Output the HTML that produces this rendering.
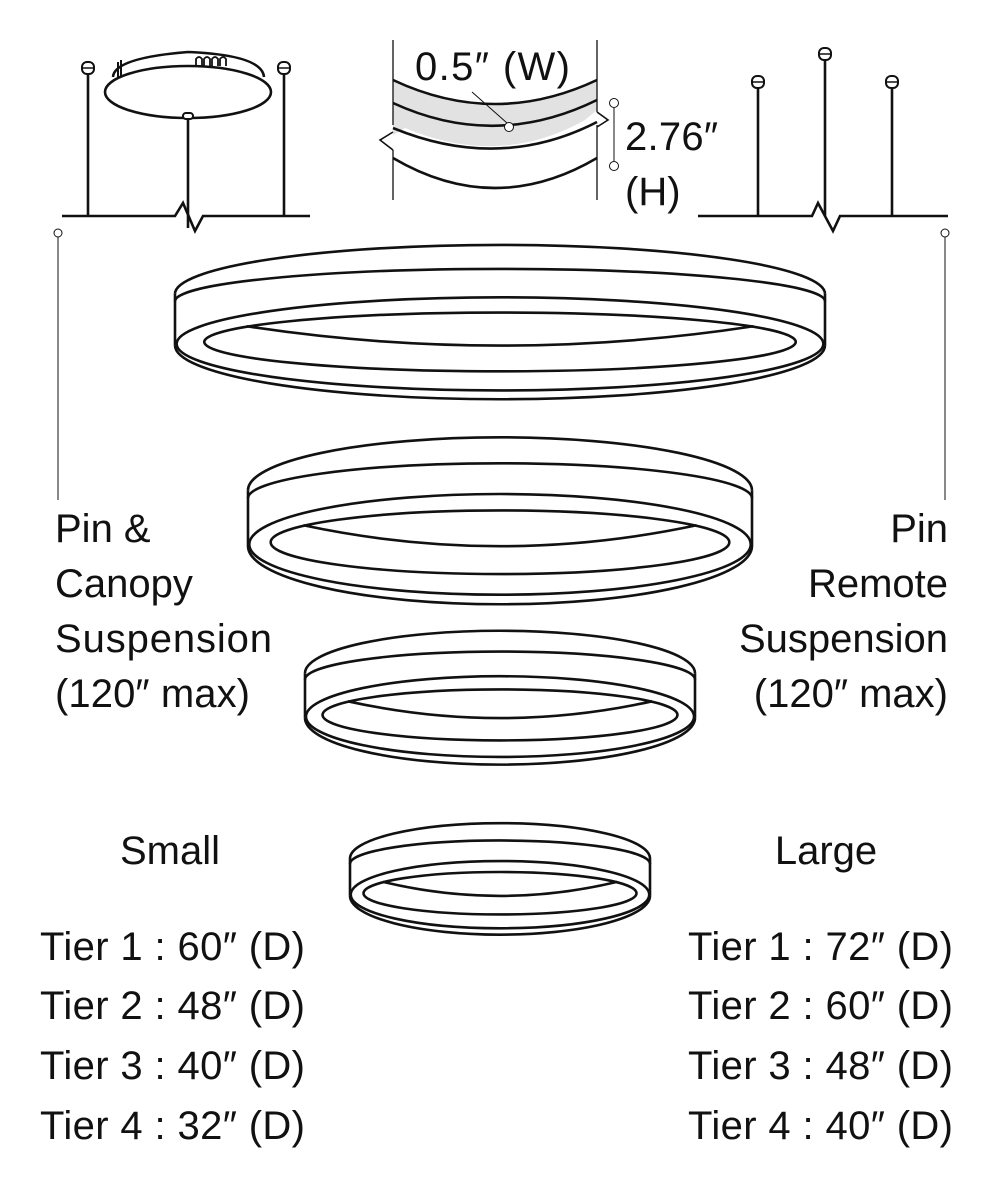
<!DOCTYPE html>
<html><head><meta charset="utf-8"><style>
html,body{margin:0;padding:0;background:#fff;}
svg{display:block}
text{font-family:"Liberation Sans",sans-serif;fill:#111;}
.r path,.r ellipse{fill:none;stroke:#111;stroke-width:2.6;vector-effect:non-scaling-stroke}
</style></head><body>
<svg width="1000" height="1200" viewBox="0 0 1000 1200" xmlns="http://www.w3.org/2000/svg">
<defs>
<g id="ring" class="r">
  <path d="M-1 0.1 A1 1 0 0 1 1 0.1" />
  <path d="M-1 0.1 V1.15 M1 0.1 V1.15"/>
  <path d="M-1 0.25 A1 0.66 0 0 1 1 0.25"/>
  <path d="M-1 1.15 A1 1.1 0 0 0 1 1.15"/>
  <ellipse cx="0" cy="1.12" rx="0.995" ry="0.95"/>
  <ellipse cx="0" cy="1.08" rx="0.91" ry="0.6"/>
  <path d="M-0.78 0.76 Q0 1.55 0.78 0.76"/>
</g>
</defs>
<g fill="none" stroke="#111" stroke-width="2.6">
<path d="M62 216 H175 L183 203 L195 231 L203 216 H310"/>
<line x1="88" y1="74" x2="88" y2="216"/>
<line x1="284" y1="74" x2="284" y2="216"/>
<line x1="188" y1="118" x2="188" y2="228"/>
<ellipse cx="188" cy="92" rx="83" ry="26" fill="#fff"/>
<path d="M113 77 Q114 58 188 52 Q262 55 264 77"/>
<path d="M118 78 V62 M121 76 V60" stroke-width="2"/>
<path d="M196 66 V59 Q199 55 202 59 V66 M204 66 V59 Q207 55 210 59 V66 M212 66 V59 Q215 55 218 59 V66 M220 66 V59 Q223 55 226 59 V66" stroke-width="1.8"/>
<rect x="82" y="62" width="12" height="12" rx="5" fill="#fff" stroke-width="2"/>
<line x1="82" y1="68" x2="94" y2="68" stroke-width="1.5"/>
<rect x="278" y="62" width="12" height="12" rx="5" fill="#fff" stroke-width="2"/>
<line x1="278" y1="68" x2="290" y2="68" stroke-width="1.5"/>
<rect x="183" y="113" width="10" height="6" rx="3" fill="#fff" stroke-width="2"/>
<path d="M698 216 H812 L818 203 L833 231 L840 216 H948"/>
<line x1="758" y1="88" x2="758" y2="216"/>
<line x1="825" y1="60" x2="825" y2="216"/>
<line x1="892" y1="88" x2="892" y2="216"/>
<rect x="752" y="76" width="12" height="12" rx="5" fill="#fff" stroke-width="2"/><line x1="752" y1="82" x2="764" y2="82" stroke-width="1.5"/>
<rect x="819" y="48" width="12" height="12" rx="5" fill="#fff" stroke-width="2"/><line x1="819" y1="54" x2="831" y2="54" stroke-width="1.5"/>
<rect x="886" y="76" width="12" height="12" rx="5" fill="#fff" stroke-width="2"/><line x1="886" y1="82" x2="898" y2="82" stroke-width="1.5"/>
<g stroke-width="1">
<circle cx="58" cy="233" r="4" fill="#fff"/><line x1="58" y1="237" x2="58" y2="500"/>
<circle cx="945" cy="233" r="4" fill="#fff"/><line x1="945" y1="237" x2="945" y2="500"/>
</g>
<path d="M393 80 Q495 128 597 80 L597 110 L585 120 Q500 168 405 128 L393 135 Z" fill="#e2e2e2" stroke="none"/>
<path d="M393 40 V125 M393 150 V200 M597 40 V112 M597 125 V200" stroke-width="1.3"/>
<path d="M393 80 Q495 128 597 80"/>
<path d="M393 103 Q495 150 597 100"/>
<path d="M393 128 Q500 172 597 122"/>
<path d="M393 132 L380 140 L393 150 M597 112 L608 120 L597 127" stroke-width="1.6"/>
<path d="M393 158 Q495 218 597 158"/>
<g stroke-width="1"><line x1="472" y1="92" x2="507" y2="123"/><circle cx="509" cy="127" r="4.5" fill="#fff"/>
<circle cx="614" cy="103" r="4.5" fill="#fff"/><line x1="614" y1="108" x2="614" y2="161"/><circle cx="614" cy="166" r="4.5" fill="#fff"/></g>
</g>
<use href="#ring" transform="translate(500,289) scale(325,49)"/>
<use href="#ring" transform="translate(500,485) scale(252,53)"/>
<use href="#ring" transform="translate(500,669) scale(195,42.5)"/>
<use href="#ring" transform="translate(500,855) scale(150,35.4)"/>
<g font-size="40">
<text x="415" y="80" textLength="155">0.5″ (W)</text>
<text x="625" y="150" textLength="93">2.76″</text>
<text x="625" y="205">(H)</text>
<text x="55" y="542">Pin &amp;</text>
<text x="55" y="597">Canopy</text>
<text x="55" y="652" textLength="217">Suspension</text>
<text x="55" y="707" textLength="195">(120″ max)</text>
<g text-anchor="end">
<text x="948" y="542">Pin</text>
<text x="948" y="597">Remote</text>
<text x="948" y="652">Suspension</text>
<text x="948" y="707">(120″ max)</text>
</g>
<text x="170" y="864" text-anchor="middle">Small</text>
<text x="826" y="864" text-anchor="middle">Large</text>
<text x="40" y="960" textLength="265">Tier 1 :  60″ (D)</text>
<text x="40" y="1019" textLength="265">Tier 2 :  48″ (D)</text>
<text x="40" y="1079" textLength="265">Tier 3 :  40″ (D)</text>
<text x="40" y="1139" textLength="265">Tier 4 :  32″ (D)</text>
<text x="688" y="960" textLength="265">Tier 1 :  72″ (D)</text>
<text x="688" y="1019" textLength="265">Tier 2 :  60″ (D)</text>
<text x="688" y="1079" textLength="265">Tier 3 :  48″ (D)</text>
<text x="688" y="1139" textLength="265">Tier 4 :  40″ (D)</text>
</g>
</svg>
</body></html>
